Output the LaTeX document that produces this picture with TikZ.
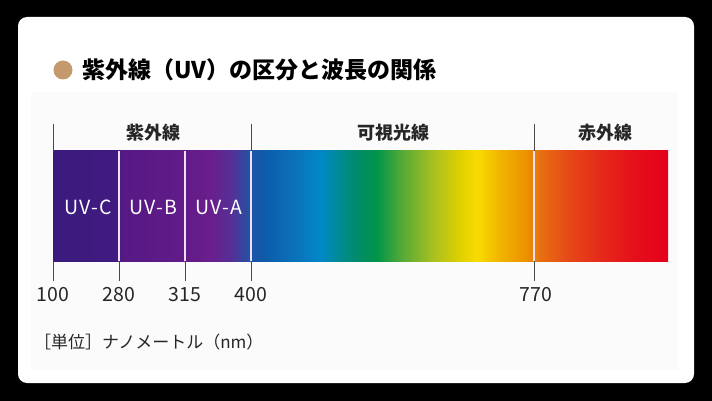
\documentclass[tikz,border=0pt]{standalone}
\usepackage{fontspec}
\setmainfont{Noto Sans CJK JP}
\definecolor{bullet}{HTML}{C49A6C}
\definecolor{tickc}{HTML}{4A4A4A}
\definecolor{panel}{HTML}{FBFBFB}
\definecolor{sA}{HTML}{3A1B7D}
\definecolor{sB}{HTML}{411A80}
\definecolor{sC}{HTML}{561A85}
\definecolor{sD}{HTML}{611B88}
\definecolor{sE}{HTML}{6A1E8B}
\definecolor{sF}{HTML}{553096}
\definecolor{sG}{HTML}{1E55A6}
\definecolor{sH}{HTML}{0D5CAB}
\definecolor{sI}{HTML}{0A76BC}
\definecolor{sJ}{HTML}{0088C8}
\definecolor{sK}{HTML}{008A92}
\definecolor{sL}{HTML}{008C62}
\definecolor{sM}{HTML}{00954A}
\definecolor{sN}{HTML}{50A838}
\definecolor{sO}{HTML}{A8C020}
\definecolor{sP}{HTML}{E0D000}
\definecolor{sQ}{HTML}{F8DC00}
\definecolor{sR}{HTML}{F2B400}
\definecolor{sS}{HTML}{EC9000}
\definecolor{sT}{HTML}{E87010}
\definecolor{sU}{HTML}{E64A18}
\definecolor{sV}{HTML}{E52A1A}
\definecolor{sW}{HTML}{E5101A}
\definecolor{sX}{HTML}{E5001A}
\pgfdeclarehorizontalshading{spectrum}{100bp}{%
color(0bp)=(sA); color(25bp)=(sA); color(30.04bp)=(sB); color(30.69bp)=(sC);
color(35.73bp)=(sD); color(37.76bp)=(sE); color(39.55bp)=(sF); color(41.10bp)=(sG);
color(42.24bp)=(sH); color(45.08bp)=(sI); color(46.71bp)=(sJ); color(48.33bp)=(sK);
color(49.96bp)=(sL); color(51.34bp)=(sM); color(53.21bp)=(sN); color(55.89bp)=(sO);
color(58.09bp)=(sP); color(59.47bp)=(sQ); color(61.34bp)=(sR); color(63.54bp)=(sS);
color(64.59bp)=(sT); color(66.79bp)=(sU); color(69.47bp)=(sV); color(72.15bp)=(sW);
color(75bp)=(sX); color(100bp)=(sX)}
\begin{document}
\begin{tikzpicture}[x=1pt,y=-1pt,
  tickline/.style={draw=tickc,line width=1pt},
  innerline/.style={draw=white!88!violet,line width=1.3pt},
  bandlabel/.style={font=\fontsize{18}{20}\selectfont\bfseries,text=black!85,inner sep=0pt},
  uvlabel/.style={font=\fontsize{19.5}{22}\selectfont\addfontfeatures{LetterSpace=6},text=white,inner sep=0pt},
  numlabel/.style={font=\fontsize{19.5}{22}\selectfont,text=black!85,inner sep=0pt}]
\useasboundingbox (0,0) rectangle (712,401);
\fill[black] (0,0) rectangle (712,401);
\fill[white,rounded corners=9pt] (18,17) rectangle (694,383);
\fill[panel] (31,92) rectangle (678,370);
% title
\fill[bullet] (63,70) circle (9.5);
\node[anchor=west,inner sep=0pt,font=\fontsize{23}{26}\selectfont\bfseries] (title) at (82,70) {紫外線（UV）の区分と波長の関係};
% spectrum bar
\shade[shading=spectrum] (53,151) rectangle (668,261);
% ticks above (band boundaries) and below (all)
\foreach \x in {53,251,534}{
  \draw[tickline] (\x,124) -- (\x,151);
}
\foreach \x in {53,119,185,251,534}{
  \draw[tickline] (\x,261) -- (\x,281);
}
\foreach \x in {119,185,251,534}{
  \draw[innerline] (\x,151) -- (\x,261);
}
% band labels
\node[bandlabel] (uv) at (153,133) {紫外線};
\node[bandlabel] (vis) at (393,133) {可視光線};
\node[bandlabel] (ir) at (605,133) {赤外線};
% uv sub labels
\node[uvlabel] (uvc) at (88,207) {UV-C};
\node[uvlabel] (uvb) at (153,207) {UV-B};
\node[uvlabel] (uva) at (219,207) {UV-A};
% numbers
\node[numlabel] (n100) at (53,295) {100};
\node[numlabel] (n280) at (119,295) {280};
\node[numlabel] (n315) at (185,295) {315};
\node[numlabel] (n400) at (251,295) {400};
\node[numlabel] (n770) at (536,295) {770};
% unit
\node[anchor=west,inner sep=0pt,font=\fontsize{17}{19}\selectfont,text=black!85] (unit) at (34,342) {［単位］ナノメートル（nm）};
\end{tikzpicture}
\end{document}
